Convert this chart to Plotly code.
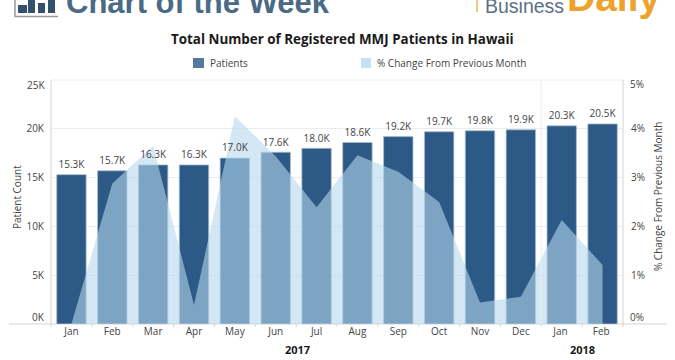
import plotly.graph_objects as go

months = ["Jan", "Feb", "Mar", "Apr", "May", "Jun", "Jul", "Aug", "Sep", "Oct", "Nov", "Dec", "Jan ", "Feb "]
patients = [15300, 15700, 16300, 16300, 17000, 17600, 18000, 18600, 19200, 19700, 19800, 19900, 20300, 20500]
bar_labels = ["15.3K", "15.7K", "16.3K", "16.3K", "17.0K", "17.6K", "18.0K", "18.6K", "19.2K", "19.7K", "19.8K", "19.9K", "20.3K", "20.5K"]
pct_change = [0.0, 2.88, 3.65, 0.39, 4.25, 3.44, 2.39, 3.46, 3.12, 2.5, 0.44, 0.56, 2.13, 1.21]
left_ticks = [5000, 10000, 15000, 20000]
left_tick_text = ["5K", "10K", "15K", "20K"]
right_ticks = [1, 2, 3, 4]
right_tick_text = ["1%", "2%", "3%", "4%"]

FONT = "Open Sans"
TXT = "#444444"
GRID = "#ececec"
AX = "#d4d4d4"
W, H = 675, 360
L, R, T, B = 51, 623, 80, 324
Y_MAX, Y2_MAX = 25000, 5


def px(x):
    return (x - L) / (R - L)


def py(y):
    return 1 - (y - T) / (B - T)


fig = go.Figure()
fig.add_trace(go.Bar(
    x=months, y=patients, name="Patients",
    marker=dict(color="#2c5985", line=dict(color="#a9bdd0", width=0.8)),
    width=0.72, yaxis="y", showlegend=False,
))
fig.add_trace(go.Scatter(
    x=months, y=pct_change, name="% Change From Previous Month", yaxis="y2", mode="lines",
    line=dict(width=0), fill="tozeroy", fillcolor="rgba(181,215,236,0.6)", showlegend=False,
))
# bar value labels sit above the translucent area, so they go on the top axis (rescaled)
fig.add_trace(go.Scatter(
    x=months, y=[v * Y2_MAX / Y_MAX for v in patients], text=bar_labels, yaxis="y2", mode="markers+text",
    marker=dict(size=5, opacity=0), textposition="top center", cliponaxis=False,
    textfont=dict(size=10, color=TXT, family=FONT), showlegend=False, hoverinfo="skip",
))

shapes = []
# plot frame, baseline, year divider, tick marks
for x0, y0, x1, y1, c in [
    (L, T, R, T, GRID), (L, T, L, B, AX), (R, T, R, B, AX),
    (9, B, 667, B, AX), (541, T, 541, B, GRID),
]:
    shapes.append(dict(type="line", xref="paper", yref="paper", x0=px(x0), x1=px(x1),
                       y0=py(y0), y1=py(y1), line=dict(color=c, width=1), layer="above" if x0 == 541 else "below"))
for i in range(15):
    x = L + i * (R - L) / 14
    shapes.append(dict(type="line", xref="paper", yref="paper", x0=px(x), x1=px(x),
                       y0=py(B), y1=py(B + 3), line=dict(color=AX, width=1)))
# legend swatches
for x0, x1, c in [(193, 204, "#55799f"), (361, 371, "#c5e2f3")]:
    shapes.append(dict(type="rect", xref="paper", yref="paper", x0=px(x0), x1=px(x1),
                       y0=py(68), y1=py(58), fillcolor=c, line=dict(width=0)))
# header icon
for x0, y0, x1, y1 in [(18, 5, 27, 13), (28, 0, 35, 13), (38, 3, 45, 13), (48, 0, 55, 13)]:
    shapes.append(dict(type="rect", xref="paper", yref="paper", x0=px(x0), x1=px(x1),
                       y0=py(y1), y1=py(y0), fillcolor="#33506f", line=dict(width=0)))
shapes.append(dict(type="path", xref="paper", yref="paper", line=dict(color="#9a9a9a", width=1.5),
                   path=f"M {px(15)} {py(0)} L {px(15)} {py(16.5)} L {px(58)} {py(16.5)}"))
shapes.append(dict(type="line", xref="paper", yref="paper", x0=px(477), x1=px(477), y0=py(0), y1=py(12),
                   line=dict(color="#eda22c", width=1.2)))


def note(text, x, y, size=10, color=TXT, bold=False, angle=0, anchor="center", family=FONT):
    return dict(text=f"<b>{text}</b>" if bold else text, x=px(x), y=py(y), xref="paper", yref="paper",
                showarrow=False, xanchor=anchor, yanchor="middle",
                font=dict(size=size, color=color, family=family), textangle=angle)


annotations = [
    note("Total Number of Registered MMJ Patients in Hawaii", 342, 39, size=13.4, color="#1a1a1a", bold=True),
    note("Patients", 208, 63, anchor="left"),
    note("% Change From Previous Month", 375, 63, anchor="left"),
    note("Patient Count", 17, 197, angle=-90),
    note("% Change From Previous Month", 658, 197, angle=-90),
    note("2017", 297, 349, size=11, color="#1a1a1a", bold=True),
    note("2018", 582, 349, size=11, color="#1a1a1a", bold=True),
    note("25K", 47, 85, anchor="right"),
    note("0K", 47, 317, anchor="right"),
    note("5%", 628, 84, anchor="left"),
    note("0%", 628, 317, anchor="left"),
    note("Chart of the Week", 64, 2, size=31, color="#4a6a85", bold=True, anchor="left", family="Liberation Sans"),
    note("Business", 483, 6, size=19.5, color="#5a7086", anchor="left", family="Liberation Sans"),
    note("Daily", 565, -3, size=39, color="#eda22c", bold=True, anchor="left", family="Liberation Sans"),
]

fig.update_layout(
    width=W, height=H, autosize=False, plot_bgcolor="white", paper_bgcolor="white",
    margin=dict(l=L, r=W - R, t=T, b=H - B), showlegend=False, bargap=0.28,
    shapes=shapes, annotations=annotations,
    font=dict(family=FONT, size=10, color=TXT),
    xaxis=dict(type="category", showgrid=False, zeroline=False, showline=False, ticks="",
               tickfont=dict(size=10), range=[-0.5, 13.5], fixedrange=True),
    yaxis=dict(range=[0, Y_MAX], tickmode="array", tickvals=left_ticks, ticktext=left_tick_text,
               gridcolor=GRID, zeroline=False, showline=False, ticklen=4, ticks="outside", tickcolor="white"),
    yaxis2=dict(range=[0, Y2_MAX], overlaying="y", side="right", tickmode="array", tickvals=right_ticks,
                ticktext=right_tick_text, showgrid=False, zeroline=False, showline=False,
                ticks="outside", ticklen=5, tickcolor="white"),
)
fig.write_html("out.html", config={"displayModeBar": False},
               post_script="document.body.style.margin='0';document.body.style.overflow='hidden';")
